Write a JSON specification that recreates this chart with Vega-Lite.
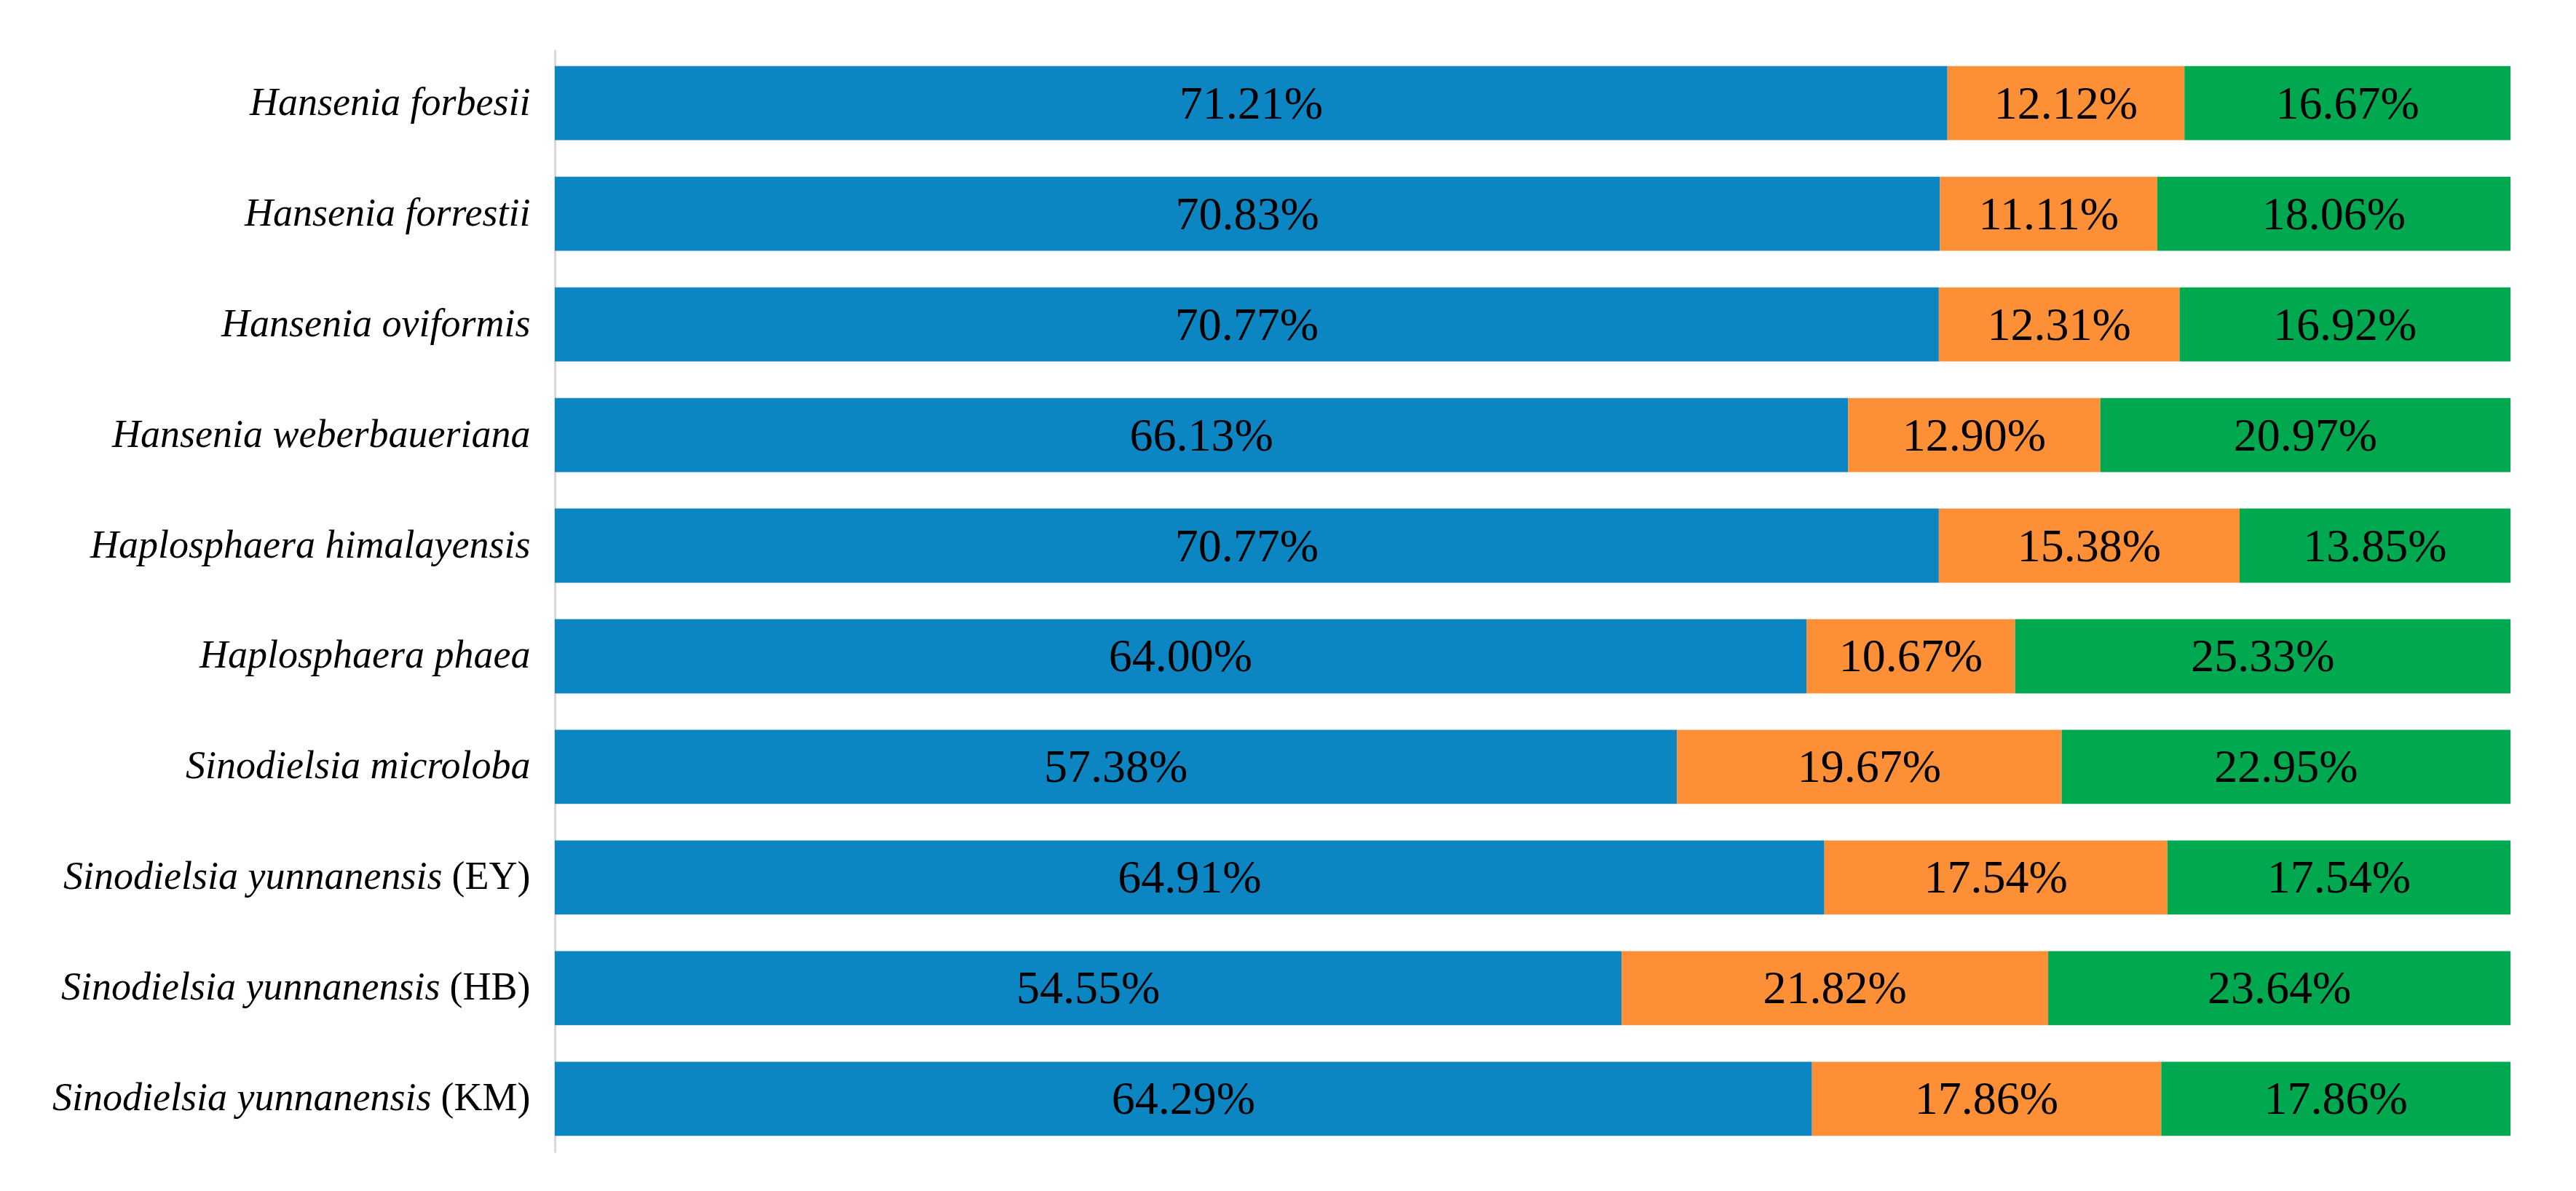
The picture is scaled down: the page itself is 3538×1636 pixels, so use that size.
{
  "$schema": "https://vega.github.io/schema/vega-lite/v6.json",
  "width": 2686,
  "height": 1515,
  "padding": {"left": 62, "top": 68, "right": 88, "bottom": 53},
  "background": "white",
  "config": {"view": {"stroke": null}, "font": "Liberation Serif"},
  "data": {
    "values": [
      {"species": "Hansenia forbesii", "part": "p1", "value": 71.21, "label": "71.21%"},
      {"species": "Hansenia forbesii", "part": "p2", "value": 12.12, "label": "12.12%"},
      {"species": "Hansenia forbesii", "part": "p3", "value": 16.67, "label": "16.67%"},
      {"species": "Hansenia forrestii", "part": "p1", "value": 70.83, "label": "70.83%"},
      {"species": "Hansenia forrestii", "part": "p2", "value": 11.11, "label": "11.11%"},
      {"species": "Hansenia forrestii", "part": "p3", "value": 18.06, "label": "18.06%"},
      {"species": "Hansenia oviformis", "part": "p1", "value": 70.77, "label": "70.77%"},
      {"species": "Hansenia oviformis", "part": "p2", "value": 12.31, "label": "12.31%"},
      {"species": "Hansenia oviformis", "part": "p3", "value": 16.92, "label": "16.92%"},
      {"species": "Hansenia weberbaueriana", "part": "p1", "value": 66.13, "label": "66.13%"},
      {"species": "Hansenia weberbaueriana", "part": "p2", "value": 12.90, "label": "12.90%"},
      {"species": "Hansenia weberbaueriana", "part": "p3", "value": 20.97, "label": "20.97%"},
      {"species": "Haplosphaera himalayensis", "part": "p1", "value": 70.77, "label": "70.77%"},
      {"species": "Haplosphaera himalayensis", "part": "p2", "value": 15.38, "label": "15.38%"},
      {"species": "Haplosphaera himalayensis", "part": "p3", "value": 13.85, "label": "13.85%"},
      {"species": "Haplosphaera phaea", "part": "p1", "value": 64.00, "label": "64.00%"},
      {"species": "Haplosphaera phaea", "part": "p2", "value": 10.67, "label": "10.67%"},
      {"species": "Haplosphaera phaea", "part": "p3", "value": 25.33, "label": "25.33%"},
      {"species": "Sinodielsia microloba", "part": "p1", "value": 57.38, "label": "57.38%"},
      {"species": "Sinodielsia microloba", "part": "p2", "value": 19.67, "label": "19.67%"},
      {"species": "Sinodielsia microloba", "part": "p3", "value": 22.95, "label": "22.95%"},
      {"species": "Sinodielsia yunnanensis (EY)", "part": "p1", "value": 64.91, "label": "64.91%"},
      {"species": "Sinodielsia yunnanensis (EY)", "part": "p2", "value": 17.54, "label": "17.54%"},
      {"species": "Sinodielsia yunnanensis (EY)", "part": "p3", "value": 17.54, "label": "17.54%"},
      {"species": "Sinodielsia yunnanensis (HB)", "part": "p1", "value": 54.55, "label": "54.55%"},
      {"species": "Sinodielsia yunnanensis (HB)", "part": "p2", "value": 21.82, "label": "21.82%"},
      {"species": "Sinodielsia yunnanensis (HB)", "part": "p3", "value": 23.64, "label": "23.64%"},
      {"species": "Sinodielsia yunnanensis (KM)", "part": "p1", "value": 64.29, "label": "64.29%"},
      {"species": "Sinodielsia yunnanensis (KM)", "part": "p2", "value": 17.86, "label": "17.86%"},
      {"species": "Sinodielsia yunnanensis (KM)", "part": "p3", "value": 17.86, "label": "17.86%"}
    ]
  },
  "layer": [
    {
      "mark": {"type": "bar"},
      "encoding": {
        "y": {
          "field": "species", "type": "nominal", "sort": null,
          "scale": {"paddingInner": 0.33, "paddingOuter": 0.15},
          "axis": {
            "orient": "left", "title": null, "domain": true, "domainColor": "#d9d9d9", "domainWidth": 3,
            "ticks": false, "grid": false,
            "labelFont": "Liberation Serif", "labelFontStyle": "italic", "labelFontSize": 54, "labelColor": "black",
            "labelLimit": 1000,
            "labelPadding": {
              "condition": [
                {"test": "indexof(datum.value, '(KM)') >= 0", "value": 170},
                {"test": "indexof(datum.value, '(HB)') >= 0", "value": 158},
                {"test": "indexof(datum.value, '(EY)') >= 0", "value": 155}
              ],
              "value": 34
            },
            "labelExpr": "split(datum.label, ' (')[0]",
            "minExtent": 700, "maxExtent": 700
          }
        },
        "x": {"field": "value", "type": "quantitative", "stack": "normalize", "axis": null, "scale": {"nice": false}},
        "color": {
          "field": "part", "type": "nominal",
          "scale": {"domain": ["p1", "p2", "p3"], "range": ["#0C86C2", "#FD8F36", "#00A94F"]},
          "legend": null
        },
        "order": {"field": "part"}
      }
    },
    {
      "mark": {"type": "text", "fontSize": 64, "font": "Liberation Serif", "color": "black", "align": "center", "baseline": "middle", "dy": 2},
      "encoding": {
        "y": {
          "field": "species", "type": "nominal", "sort": null,
          "axis": {
            "orient": "left", "title": null, "domain": false, "ticks": false, "grid": false,
            "labelFont": "Liberation Serif", "labelFontStyle": "normal", "labelFontSize": 54, "labelColor": "black",
            "labelLimit": 1000, "labelPadding": 34,
            "labelExpr": "indexof(datum.label, '(') >= 0 ? substring(datum.label, indexof(datum.label, '(')) : ''",
            "minExtent": 700, "maxExtent": 700
          }
        },
        "x": {"field": "value", "type": "quantitative", "stack": "normalize", "bandPosition": 0.5},
        "detail": {"field": "part"},
        "order": {"field": "part"},
        "text": {"field": "label"}
      }
    }
  ],
  "resolve": {"axis": {"y": "independent"}}
}
